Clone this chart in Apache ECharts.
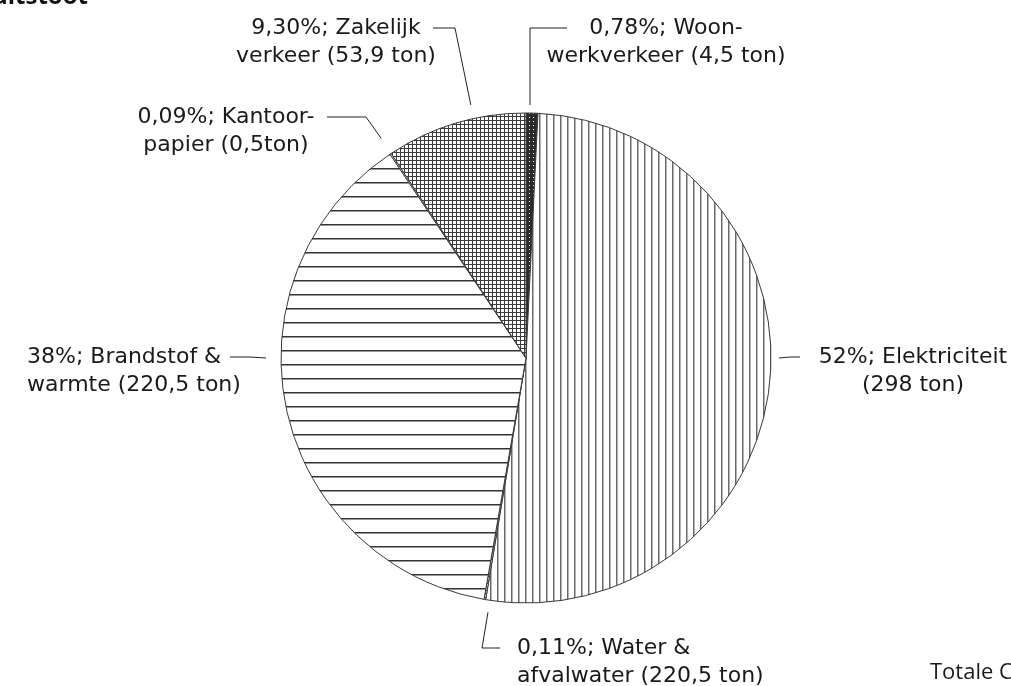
<!DOCTYPE html>
<html>
<head>
<meta charset="utf-8">
<script src="https://cdn.jsdelivr.net/npm/echarts@6/dist/echarts.min.js"></script>
<style>
html,body{margin:0;padding:0;background:#fff;}
#chart{width:1011px;height:686px;}
</style>
</head>
<body>
<div id="chart"></div>
<script>
// ---- data ----
const categories = ['Woon-werkverkeer', 'Elektriciteit', 'Water & afvalwater', 'Brandstof & warmte', 'Kantoorpapier', 'Zakelijk verkeer'];
const percentages = [0.78, 52, 0.11, 38, 0.09, 9.30];
const labelTexts = [
  '0,78%; Woon-\nwerkverkeer (4,5 ton)',
  '52%; Elektriciteit\n(298 ton)',
  '0,11%; Water &\nafvalwater (220,5 ton)',
  '38%; Brandstof &\nwarmte (220,5 ton)',
  '0,09%; Kantoor-\npapier (0,5ton)',
  '9,30%; Zakelijk\nverkeer (53,9 ton)'
];
const patternKinds = ['dots', 'vertical', 'diagonal', 'horizontal', 'fine', 'grid'];

// ---- layout (label placement & leader lines, pixels) ----
const CX = 526, CY = 358, R = 245;
const FONT = '"DejaVu Sans", "Open Sans", sans-serif';
const labelLayouts = [
  {x: 666, y: 14, align: 'center', angle: 0.9, gap: 8, corner: [530, 28], end: [567, 28]},
  {x: 913, y: 343, align: 'center', angle: 90, gap: 8, corner: [790, 357], end: [800, 357]},
  {x: 517, y: 634, align: 'left', angle: 188.5, gap: 12, corner: [482, 648], end: [500, 648]},
  {x: 27, y: 343, align: 'left', angle: 270, gap: 15, corner: [250, 357], end: [230, 357]},
  {x: 226, y: 103, align: 'center', angle: 326.6, gap: 18, corner: [366, 117], end: [327, 117]},
  {x: 336, y: 14, align: 'center', angle: 347.7, gap: 14, corner: [455, 28], end: [433, 28]}
];

function makePattern(kind) {
  const c = document.createElement('canvas');
  const ctx = c.getContext('2d');
  if (kind === 'vertical') {
    c.width = 7; c.height = 7;
    ctx.fillStyle = '#fff'; ctx.fillRect(0, 0, 7, 7);
    ctx.fillStyle = '#6a6a6a'; ctx.fillRect(0, 0, 1.5, 7);
  } else if (kind === 'horizontal') {
    c.width = 14; c.height = 14;
    ctx.fillStyle = '#fff'; ctx.fillRect(0, 0, 14, 14);
    ctx.fillStyle = '#333'; ctx.fillRect(0, 0, 14, 1.5);
  } else if (kind === 'grid') {
    c.width = 4; c.height = 4;
    ctx.fillStyle = '#fff'; ctx.fillRect(0, 0, 4, 4);
    ctx.fillStyle = '#3a3a3a'; ctx.fillRect(0, 0, 4, 1); ctx.fillRect(0, 0, 1, 4);
  } else if (kind === 'dots') {
    c.width = 4; c.height = 4;
    ctx.fillStyle = '#2a2a2a'; ctx.fillRect(0, 0, 4, 4);
    ctx.fillStyle = '#fff'; ctx.fillRect(1, 1, 1, 1);
  } else if (kind === 'diagonal') {
    c.width = 4; c.height = 4;
    ctx.fillStyle = '#fff'; ctx.fillRect(0, 0, 4, 4);
    ctx.fillStyle = '#444'; for (let i = 0; i < 4; i++) ctx.fillRect(i, i, 1, 1);
  } else {
    c.width = 3; c.height = 3;
    ctx.fillStyle = '#fff'; ctx.fillRect(0, 0, 3, 3);
    ctx.fillStyle = '#555'; ctx.fillRect(0, 0, 1, 1);
  }
  return {image: c, repeat: 'repeat'};
}

const seriesData = categories.map((name, i) => ({
  name: name,
  value: percentages[i],
  itemStyle: {color: makePattern(patternKinds[i])}
}));

const chart = echarts.init(document.getElementById('chart'), null, {renderer: 'canvas'});
chart.setOption({
  animation: false,
  backgroundColor: '#ffffff',
  graphic: [
    {type: 'text', x: 88, y: 9, style: {text: 'Verdeling CO₂-uitstoot', align: 'right', verticalAlign: 'bottom', font: 'bold 24px "Open Sans", sans-serif', fill: '#111'}},
    {type: 'text', x: 930, y: 662, style: {text: 'Totale CO₂-uitstoot: 578 ton', align: 'left', verticalAlign: 'top', font: '22px "Open Sans", sans-serif', fill: '#1a1a1a'}}
  ],
  series: [{
    type: 'pie',
    center: [CX, CY],
    radius: R,
    startAngle: 90,
    clockwise: true,
    silent: true,
    emphasis: {disabled: true},
    itemStyle: {borderColor: '#3a3a3a', borderWidth: 1},
    data: seriesData,
    label: {
      show: true,
      position: 'outside',
      formatter: p => labelTexts[p.dataIndex],
      fontFamily: FONT,
      fontSize: 22,
      lineHeight: 28,
      width: 300,
      overflow: 'none',
      color: '#1a1a1a'
    },
    labelLine: {show: true, lineStyle: {color: '#222', width: 1}},
    labelLayout: function (params) {
      const L = labelLayouts[params.dataIndex];
      const a = L.angle * Math.PI / 180;
      const rr = R + L.gap;
      const p0 = [CX + rr * Math.sin(a), CY - rr * Math.cos(a)];
      return {
        x: L.x, y: L.y, align: L.align, verticalAlign: 'top',
        labelLinePoints: [p0, L.corner, L.end]
      };
    }
  }]
});
</script>
</body>
</html>
